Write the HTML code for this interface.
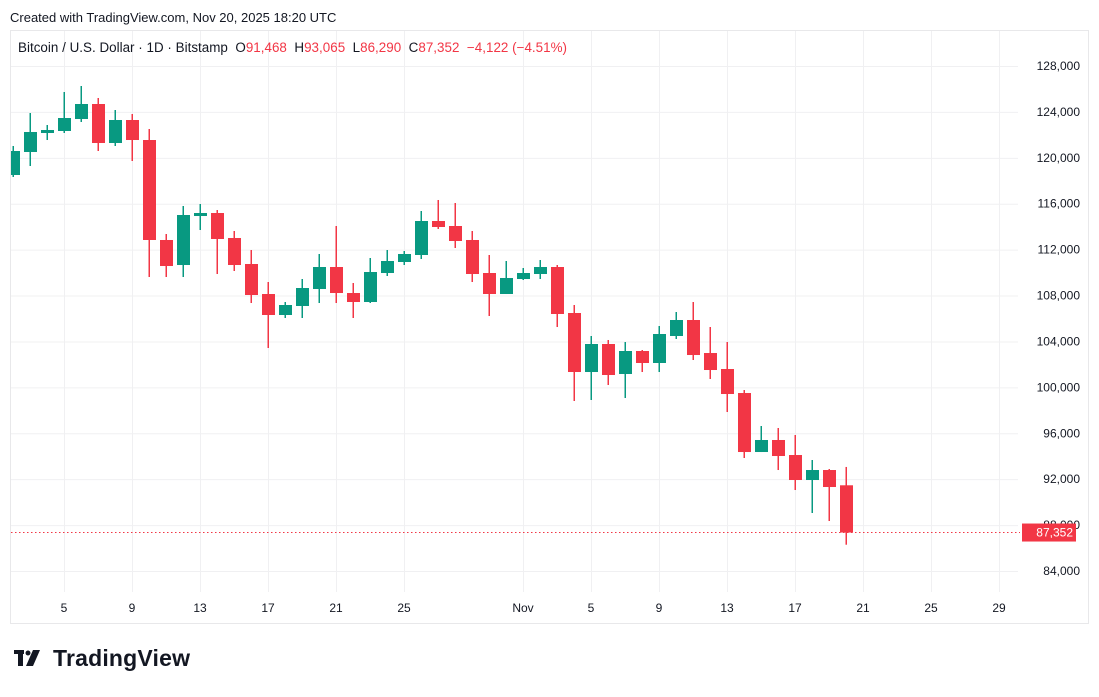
<!DOCTYPE html>
<html><head><meta charset="utf-8"><style>
body{margin:0;background:#fff;font-family:"Liberation Sans",sans-serif;}
svg text{font-family:"Liberation Sans",sans-serif;}
</style></head><body>
<svg id="chart" width="1099" height="692" xmlns="http://www.w3.org/2000/svg">
<text x="10" y="22" font-size="13" fill="#131722">Created with TradingView.com, Nov 20, 2025 18:20 UTC</text>
<rect x="10.5" y="30.5" width="1078" height="593" fill="none" stroke="#e8e8ea"/>
<g id="grid"></g>
<g id="candles"></g>
<g id="axes"></g>
<text x="18" y="52" font-size="13.4" fill="#131722" textLength="549">Bitcoin / U.S. Dollar · 1D · Bitstamp&#160;&#160;O<tspan fill="#f23645">91,468</tspan>&#160;&#160;H<tspan fill="#f23645">93,065</tspan>&#160;&#160;L<tspan fill="#f23645">86,290</tspan>&#160;&#160;C<tspan fill="#f23645">87,352&#160;&#160;−4,122 (−4.51%)</tspan></text>
<g>
<rect x="14" y="650" width="10" height="4" fill="#131722"/><rect x="18" y="650" width="5" height="16" fill="#131722"/>
<circle cx="28" cy="653" r="2.5" fill="#131722"/><polygon points="33,650 40,650 33,666 26,666" fill="#131722"/>
<text x="53" y="666" font-size="23" font-weight="bold" fill="#131722" textLength="137">TradingView</text>
</g>
</svg>
<script>
const dates=["Oct 2","Oct 3","Oct 4","Oct 5","Oct 6","Oct 7","Oct 8","Oct 9","Oct 10","Oct 11","Oct 12","Oct 13","Oct 14","Oct 15","Oct 16","Oct 17","Oct 18","Oct 19","Oct 20","Oct 21","Oct 22","Oct 23","Oct 24","Oct 25","Oct 26","Oct 27","Oct 28","Oct 29","Oct 30","Oct 31","Nov 1","Nov 2","Nov 3","Nov 4","Nov 5","Nov 6","Nov 7","Nov 8","Nov 9","Nov 10","Nov 11","Nov 12","Nov 13","Nov 14","Nov 15","Nov 16","Nov 17","Nov 18","Nov 19","Nov 20"];
const opens=[118503,120507,122162,122337,123382,124689,121291,123295,121552,112840,110661,114930,115192,113014,110748,108134,106305,107089,108570,110487,108221,107437,109964,110923,111533,114495,114059,112840,109964,108134,109441,109877,110487,106479,101338,103778,101164,103168,102123,104475,105869,102993,101599,99508,94367,95414,94106,91928,92799,91468];
const highs=[121030,123905,122859,125735,126257,125212,124166,123818,122511,113362,115802,115976,115453,113624,111968,109180,107437,109441,111620,114059,109093,111271,111968,111881,115366,116325,116063,113624,111533,111010,110400,111097,110661,107176,104475,104127,103952,103255,105346,106566,107437,105259,103952,99769,96633,96459,95849,93671,92886,93065];
const lows=[118330,119287,121552,122162,123121,120594,121030,119723,109616,109616,109616,113711,109877,110139,107350,103429,106044,106044,107350,107350,106044,107350,109703,110661,111184,113798,112143,109180,106218,108134,109354,109441,105259,98812,98899,100206,99073,101338,101338,104214,102384,100729,97853,93845,94367,92799,91057,89053,88356,86290];
const closes=[120594,122250,122424,123469,124689,121291,123295,121552,112840,110574,115018,115192,112927,110661,108047,106305,107176,108657,110487,108221,107437,110051,111010,111620,114495,113972,112753,109877,108134,109529,109964,110487,106392,101338,103778,101077,103168,102123,104649,105869,102819,101512,99421,94367,95414,94019,91928,92799,91318,87352];
const yTicks=[84000,88000,92000,96000,100000,104000,108000,112000,116000,120000,124000,128000];
const xTickLabels=["5","9","13","17","21","25","Nov","5","9","13","17","21","25","29"];
const xTickDay=[3,7,11,15,19,23,30,34,38,42,46,50,54,58];
const lastPrice=87352;
const NS="http://www.w3.org/2000/svg";
const y=p=>66+(128000-p)*(505/44000);
const x=i=>13+i*17;
function mk(t,a,parent){const e=document.createElementNS(NS,t);for(const k in a)e.setAttribute(k,a[k]);parent.appendChild(e);return e;}
const grid=document.getElementById('grid'),cg=document.getElementById('candles'),ax=document.getElementById('axes');
yTicks.forEach(v=>{
  const l=mk('line',{x1:11,x2:1018,y1:y(v)+.5,y2:y(v)+.5,stroke:'#f0f0f2'},grid);
  
  
  const t=mk('text',{x:1080,y:y(v)+4,'font-size':12,'text-anchor':'end',fill:'#131722'},ax);
  t.textContent=v.toLocaleString('en-US');
  
  
});
xTickDay.forEach((d,i)=>{
  const l=mk('line',{x1:x(d)+.5,x2:x(d)+.5,y1:31,y2:592,stroke:'#f0f0f2'},grid);
  
  
  const t=mk('text',{x:x(d),y:612,'font-size':12,'text-anchor':'middle',fill:'#131722'},ax);
  t.textContent=xTickLabels[i];
  
  
});
const clip=mk('clipPath',{id:'pc'},cg);mk('rect',{x:11,y:31,width:1007,height:561},clip);
const g=mk('g',{'clip-path':'url(#pc)'},cg);
dates.forEach((d,i)=>{
  const up=closes[i]>=opens[i],col=up?'#089981':'#f23645',cx=x(i);
  const w=mk('rect',{x:cx-0.5,y:y(highs[i]),width:1.5,height:Math.max(1,y(lows[i])-y(highs[i])),fill:col},g);
  
  
  const top=y(Math.max(opens[i],closes[i])),bot=y(Math.min(opens[i],closes[i]));
  const b=mk('rect',{x:cx-6,y:top,width:13,height:Math.max(1.5,bot-top),fill:col},g);
  
  
});
const pl=mk('line',{x1:11,x2:1020,y1:y(lastPrice),y2:y(lastPrice),stroke:'#f23645','stroke-dasharray':'1.5 2.5'},ax);


const tag=mk('rect',{x:1022,y:y(lastPrice)-9,width:54,height:18,fill:'#f23645'},ax);


const tt=mk('text',{x:1073,y:y(lastPrice)+4,'font-size':12,'text-anchor':'end',fill:'#fff'},ax);
tt.textContent=lastPrice.toLocaleString('en-US');


</script>
</body></html>
